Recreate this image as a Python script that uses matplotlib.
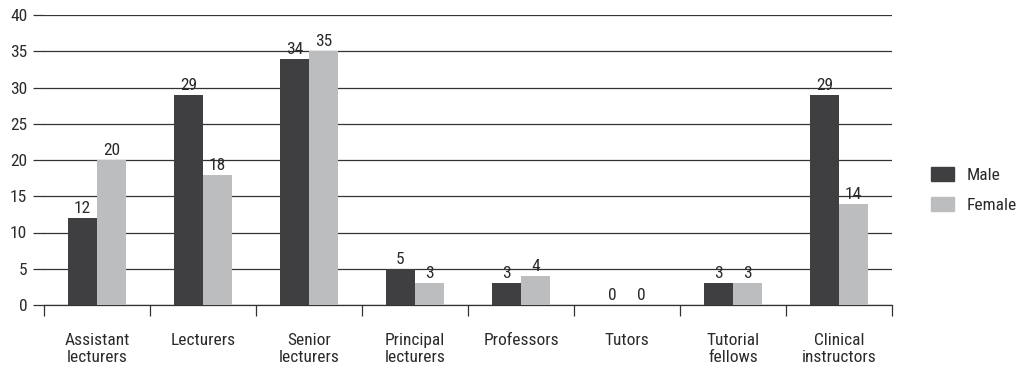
import matplotlib
matplotlib.use("Agg")
import matplotlib.pyplot as plt
import numpy as np
from matplotlib.patches import Patch

plt.rcParams['font.family'] = ['Liberation Sans Narrow', 'Roboto Condensed', 'Liberation Sans', 'DejaVu Sans']

categories = ["Assistant\nlecturers", "Lecturers", "Senior\nlecturers", "Principal\nlecturers",
              "Professors", "Tutors", "Tutorial\nfellows", "Clinical\ninstructors"]
male = [12, 29, 34, 5, 3, 0, 3, 29]
female = [20, 18, 35, 3, 4, 0, 3, 14]
yticks = [0, 5, 10, 15, 20, 25, 30, 35, 40]

c_male = "#3f3f41"
c_female = "#bcbdbf"
c_line = "#333333"
c_text = "#2a2a2a"
fs = 12.5

fig = plt.figure(figsize=(10.2, 3.69), dpi=100)
ax = fig.add_axes([44/1020, 1-305/369, (892-44)/1020, (305-15)/369])

x = np.arange(len(categories))
w = 0.275
bm = ax.bar(x - w/2, male, width=w, color=c_male, zorder=3)
bf = ax.bar(x + w/2, female, width=w, color=c_female, zorder=3)

for rects, vals in ((bm, male), (bf, female)):
    for r, v in zip(rects, vals):
        ax.text(r.get_x() + r.get_width()/2, v + 0.25, str(v), ha="center", va="bottom",
                fontsize=fs, color=c_text, zorder=4)

ax.set_xlim(-0.5, len(categories) - 0.5)
ax.set_ylim(0, 40)
ax.set_yticks(yticks)
ax.set_yticklabels([str(t) for t in yticks], fontsize=fs, color=c_text)
ax.yaxis.grid(True, color=c_line, linewidth=0.9, zorder=0)
ax.tick_params(axis="y", length=8, width=0.9, color=c_line, pad=4)

# category labels centred in each slot, ticks on the slot boundaries
ax.set_xticks(x)
ax.set_xticklabels(categories, fontsize=fs, color=c_text, linespacing=1.2)
ax.tick_params(axis="x", which="major", length=0, pad=20)
ax.set_xticks(np.arange(len(categories) + 1) - 0.5, minor=True)
ax.tick_params(axis="x", which="minor", length=8, width=0.9, color=c_line, direction="out")

for s in ("top", "right", "left"):
    ax.spines[s].set_visible(False)
ax.spines["bottom"].set_color(c_line)
ax.spines["bottom"].set_linewidth(0.9)

handles = [Patch(color=c_male, label="Male"), Patch(color=c_female, label="Female")]
leg = fig.legend(handles=handles, loc="center left", bbox_to_anchor=(931/1020, 0.485), frameon=False,
                 fontsize=fs, handlelength=1.3, handleheight=0.86, labelspacing=0.84,
                 handletextpad=0.75, borderpad=0, borderaxespad=0)
for t in leg.get_texts():
    t.set_color(c_text)

fig.savefig("out.png", dpi=100)
